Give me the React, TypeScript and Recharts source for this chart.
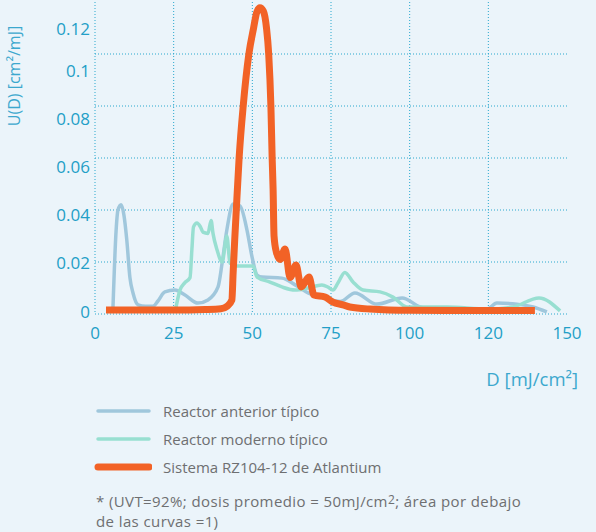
import * as React from "react";
import { LineChart, Line, XAxis, YAxis, CartesianGrid } from "recharts";

// D values [mJ/cm2] and U(D) values [cm2/mJ] per curve
const anteriorD = [5.7, 6.7, 7.3, 8.3, 9.2, 10.1, 11.1, 12.1, 13.7, 16, 18.4, 20, 22.2, 25.4, 28.6, 32.7, 35.9, 39.1, 40.4, 41.9, 43.9, 46.1, 48.3, 49.9, 51.5, 53.1, 59.4, 63.6, 67.7, 73.1, 77.9, 82.6, 89.6, 97.6, 103.3, 106.5, 124.6, 127.7, 134.1, 139.2, 143.6];
const anteriorU = [0.002, 0.032, 0.04, 0.042, 0.038, 0.0285, 0.014, 0.008, 0.0035, 0.003, 0.003, 0.005, 0.0085, 0.0092, 0.0073, 0.0042, 0.0054, 0.0104, 0.0196, 0.0323, 0.0423, 0.0415, 0.0323, 0.022, 0.015, 0.0142, 0.0138, 0.0112, 0.0081, 0.0062, 0.0048, 0.0081, 0.0038, 0.0062, 0.0027, 0.0019, 0.0019, 0.0042, 0.0038, 0.0027, 0.0008];

const modernoD = [25.4, 27, 28.5, 30.2, 30.8, 31.3, 32.4, 33.5, 34.3, 35.9, 36.9, 37.5, 38.8, 40.4, 41.9, 42.9, 44.5, 50.2, 51.5, 55.6, 59.4, 63.6, 67.7, 72.1, 74, 75.6, 77.2, 79.4, 82, 85.2, 90.6, 94.7, 99.1, 104.2, 111.9, 124.6, 132.8, 141.1, 147.8];
const modernoU = [0.0004, 0.0092, 0.012, 0.014, 0.025, 0.0335, 0.035, 0.0335, 0.0315, 0.031, 0.036, 0.031, 0.0246, 0.02, 0.03, 0.0196, 0.0185, 0.0185, 0.0142, 0.0123, 0.0104, 0.0092, 0.01, 0.0112, 0.0104, 0.0092, 0.0119, 0.016, 0.0123, 0.0092, 0.0085, 0.0065, 0.0027, 0.0027, 0.0027, 0.0019, 0.0027, 0.0062, 0.0012];

const atlantiumD = [3.5, 15, 25, 35, 40, 42, 43.5, 43.9, 44.4, 44.9, 45.8, 47.1, 48.9, 50.4, 51.4, 52.4, 53.5, 54.5, 55.2, 55.9, 56.3, 56.6, 56.9, 57.6, 58.8, 60.4, 62, 63.9, 65.5, 68, 69.6, 73.1, 75.6, 78.8, 81, 87.4, 100, 120, 139.8];
const atlantiumU = [0.0015, 0.0015, 0.0015, 0.0017, 0.002, 0.003, 0.0054, 0.0158, 0.0285, 0.04, 0.06, 0.08, 0.1, 0.11, 0.116, 0.1178, 0.1165, 0.11, 0.1, 0.08, 0.06, 0.048, 0.03, 0.024, 0.021, 0.025, 0.014, 0.0188, 0.0104, 0.0142, 0.0073, 0.0065, 0.0046, 0.0035, 0.0027, 0.0019, 0.0014, 0.0013, 0.0013];

const xTicks = [0, 25, 50, 75, 100, 125, 150];
const xTickLabels = ["0", "25", "50", "75", "100", "120", "150"];
const yTicks = [0, 0.02, 0.04, 0.06, 0.08, 0.1, 0.12];
const yTickLabels = ["0", "0.02", "0.04", "0.06", "0.08", "0.1", "0.12"];

const seriesNames = ["Reactor anterior típico", "Reactor moderno típico", "Sistema RZ104-12 de Atlantium"];

const toRows = (ds: number[], us: number[]) => ds.map((d, i) => ({ d, u: us[i] }));

const BG = "#EBF4FA";
const AXIS_BLUE = "#239FC7";
const GRID = "#2AA8CE";
const GREY = "#6E6F71";
const C_ANT = "#A0C7DC";
const C_MOD = "#98DFD1";
const C_ATL = "#F26226";
const FONT = "'Open Sans', sans-serif";

function YTick(props: any) {
  const { x, y, payload } = props;
  const v = payload.value as number;
  // the original's labels drift a little from the gridlines
  const dy = -3 + v * 190;
  return (
    <text x={x} y={y + dy} textAnchor="end" dominantBaseline="central" fill={AXIS_BLUE} fontSize={17} fontFamily={FONT}>
      {yTickLabels[yTicks.indexOf(v)]}
    </text>
  );
}

function XTick(props: any) {
  const { x, y, payload } = props;
  const v = payload.value as number;
  return (
    <text x={x} y={y} textAnchor="middle" dominantBaseline="central" fill={AXIS_BLUE} fontSize={17} fontFamily={FONT}>
      {xTickLabels[xTicks.indexOf(v)]}
    </text>
  );
}

export default function App() {
  const rowsAnt = toRows(anteriorD, anteriorU);
  const rowsMod = toRows(modernoD, modernoU);
  const rowsAtl = toRows(atlantiumD, atlantiumU);
  const legend = [
    { name: seriesNames[0], color: C_ANT, w: 3.5 },
    { name: seriesNames[1], color: C_MOD, w: 3.5 },
    { name: seriesNames[2], color: C_ATL, w: 7 },
  ];
  const legendY = [411, 439, 467];
  const noteStyle: React.CSSProperties = {
    position: "absolute", left: 96, height: 20, lineHeight: "20px", color: GREY,
    fontSize: 15, letterSpacing: 0.4, whiteSpace: "nowrap",
  };

  return (
    <div style={{ position: "relative", width: 596, height: 532, background: BG, fontFamily: FONT, overflow: "hidden" }}>
      <style>{"body{margin:0}"}</style>
      <LineChart width={596} height={346} margin={{ top: 2, right: 29, bottom: 2, left: 0 }}>
        <CartesianGrid
          stroke={GRID}
          strokeDasharray="1 2"
          horizontalValues={[0, 0.02, 0.04, 0.06, 0.08, 0.1]}
          verticalValues={[0, 25, 50, 75, 100, 125]}
        />
        <XAxis
          type="number"
          dataKey="d"
          domain={[0, 150]}
          ticks={xTicks}
          axisLine={false}
          tickLine={false}
          tickSize={0}
          tickMargin={18}
          height={30}
          tick={<XTick />}
          allowDataOverflow
        />
        <YAxis
          type="number"
          dataKey="u"
          domain={[0, 0.12]}
          ticks={yTicks}
          axisLine={false}
          tickLine={false}
          tickSize={0}
          tickMargin={5}
          width={95}
          tick={<YTick />}
          allowDataOverflow
        />
        <Line data={rowsAnt} dataKey="u" type="monotone" stroke={C_ANT} strokeWidth={3.5} dot={false} activeDot={false} isAnimationActive={false} />
        <Line data={rowsMod} dataKey="u" type="monotone" stroke={C_MOD} strokeWidth={3.5} dot={false} activeDot={false} isAnimationActive={false} />
        <Line data={rowsAtl} dataKey="u" type="monotone" stroke={C_ATL} strokeWidth={7} strokeLinejoin="round" dot={false} activeDot={false} isAnimationActive={false} />
      </LineChart>

      <div
        style={{
          position: "absolute", left: 14, top: 76, transform: "translate(-50%, -50%) rotate(-90deg)",
          whiteSpace: "nowrap", color: "#3CA8CE", fontSize: 16,
        }}
      >
        U(D) [cm²/mJ]
      </div>
      <div style={{ position: "absolute", right: 18, top: 366, color: "#3CA8CE", fontSize: 18.5, whiteSpace: "nowrap" }}>
        D [mJ/cm²]
      </div>

      {legend.map((l, i) => (
        <div key={l.name} style={{ position: "absolute", left: 94, top: legendY[i] - 10, height: 20, display: "flex", alignItems: "center" }}>
          <svg width={58} height={20}>
            <line x1={4} y1={10} x2={55} y2={10} stroke={l.color} strokeWidth={l.w} strokeLinecap="round" />
          </svg>
          <span style={{ marginLeft: 11, color: GREY, fontSize: 15, whiteSpace: "nowrap" }}>{l.name}</span>
        </div>
      ))}

      <div style={{ ...noteStyle, top: 491 }}>
        * (UVT=92%; dosis promedio = 50mJ/cm<span style={{ fontSize: 12, position: "relative", top: -3 }}>2</span>; área por debajo
      </div>
      <div style={{ ...noteStyle, top: 511 }}>de las curvas =1)</div>
    </div>
  );
}
